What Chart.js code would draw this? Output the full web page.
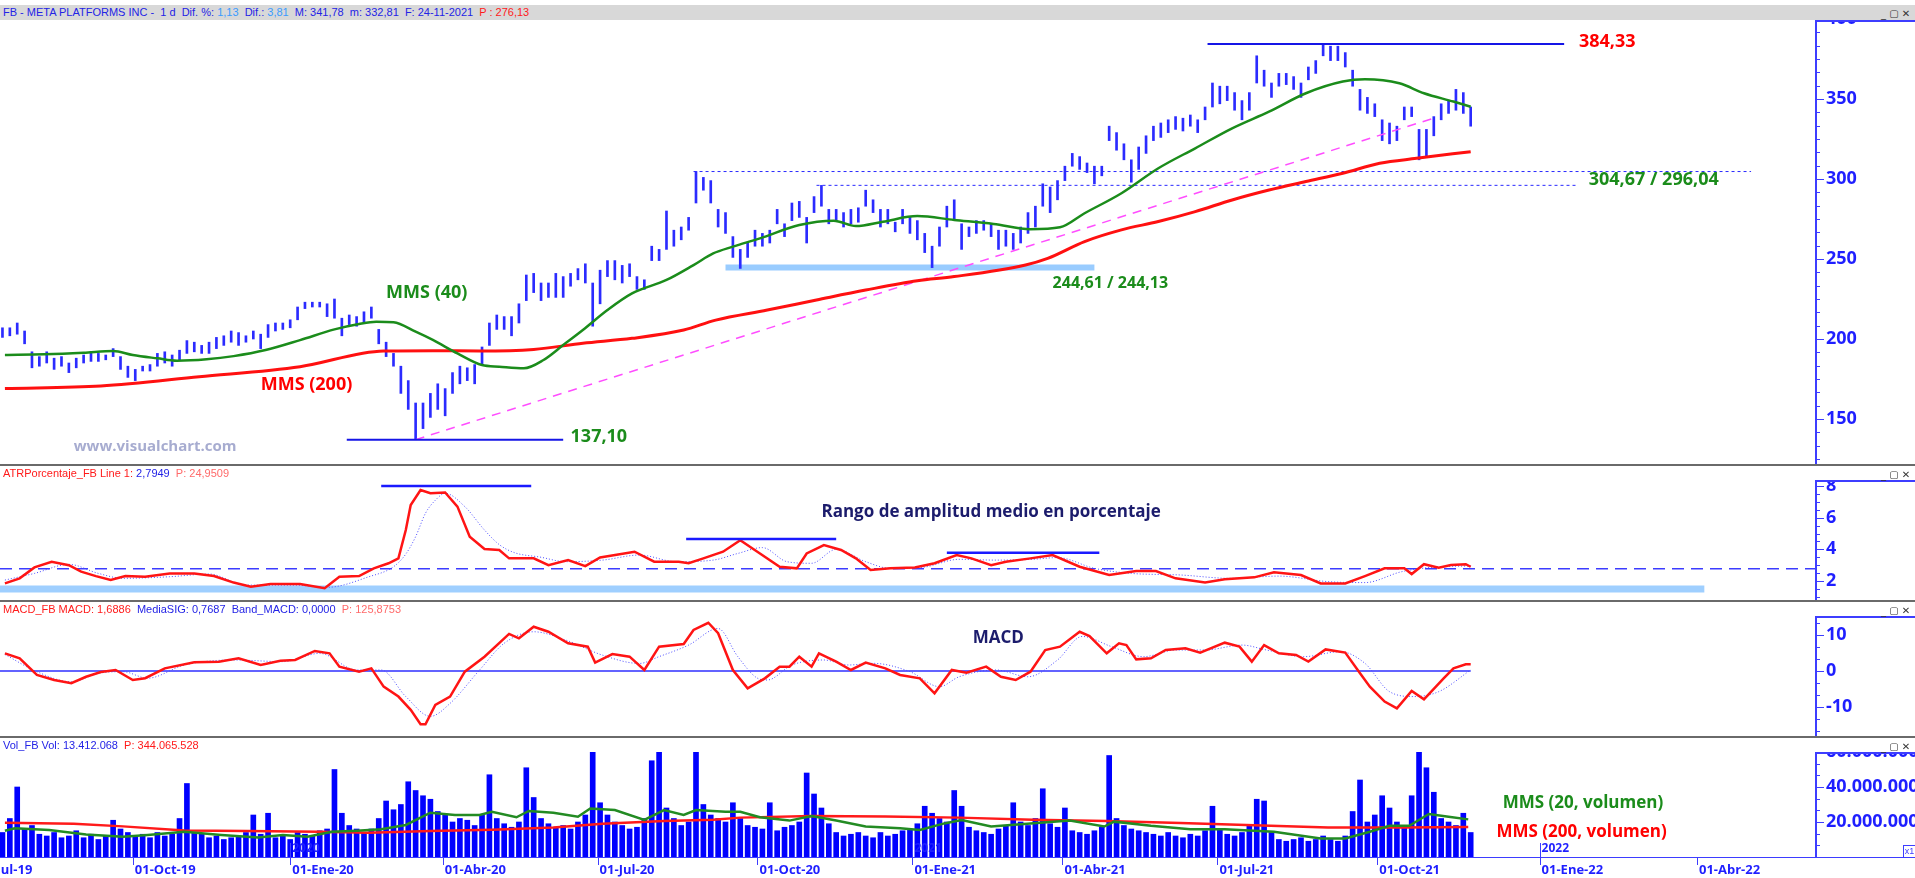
<!DOCTYPE html>
<html lang="es">
<head>
<meta charset="utf-8">
<title>FB - META PLATFORMS INC</title>
<script src="https://cdn.jsdelivr.net/npm/chart.js@4.4.1/dist/chart.umd.min.js"></script>
<style>
  body { margin: 0; width: 1915px; height: 878px; overflow: hidden; background: #fff; position: relative; font-family: "Liberation Sans", Arial, sans-serif; }
  canvas { position: absolute; left: 0; }
  .cabecera { position: absolute; left: 0; top: 5px; width: 1915px; height: 15px; background: #d8d8d8; }
  .etiqueta { position: absolute; left: 3px; font-size: 11px; line-height: 13px; white-space: pre; }
  .sep { position: absolute; left: 0; width: 1915px; height: 2px; background: #6a6a6a; }
  .ventana { position: absolute; left: 1881px; font-family: "DejaVu Sans", sans-serif; font-size: 10px; line-height: 11px; color: #333; white-space: pre; }
  .az { color: #2323e6; } .cel { color: #3a9bff; } .rj { color: #ff1a1a; } .rs { color: #ff6a6a; }
  .x1 { position: absolute; left: 1903px; top: 845px; width: 11px; height: 11px; border: 1px solid #3d3dff; font-size: 9px; line-height: 11px; color: #3d3dff; text-align: center; }
</style>
</head>
<body>
<canvas id="precio" width="1915" height="444" style="top:20px"></canvas>
<canvas id="atr" width="1915" height="134" style="top:466px"></canvas>
<canvas id="macd" width="1915" height="134" style="top:602px"></canvas>
<canvas id="vol" width="1915" height="138" style="top:740px"></canvas>

<div class="cabecera"></div>
<div class="etiqueta" style="top:6px"><span class="az">FB - META PLATFORMS INC -  1 d  Dif. %: </span><span class="cel">1,13</span><span class="az">  Dif.: </span><span class="cel">3,81</span><span class="az">  M: 341,78  m: 332,81  F: 24-11-2021  </span><span class="rj">P : 276,13</span></div>
<div class="ventana" style="top:8px">_ ▢ ✕</div>

<div class="sep" style="top:464px"></div>
<div class="etiqueta" style="top:467px"><span class="rj">ATRPorcentaje_FB Line 1: </span><span class="az">2,7949</span><span class="rs">  P: 24,9509</span></div>
<div class="ventana" style="top:469px">_ ▢ ✕</div>

<div class="sep" style="top:600px"></div>
<div class="etiqueta" style="top:603px"><span class="rj">MACD_FB MACD: 1,6886</span><span class="az">  MediaSIG: 0,7687  Band_MACD: 0,0000</span><span class="rs">  P: 125,8753</span></div>
<div class="ventana" style="top:605px">_ ▢ ✕</div>

<div class="sep" style="top:736px"></div>
<div class="etiqueta" style="top:739px"><span class="az">Vol_FB Vol: 13.412.068</span><span class="rj">  P: 344.065.528</span></div>
<div class="ventana" style="top:741px">_ ▢ ✕</div>
<div class="x1">x1</div>

<script>
// Eje X en sesiones (días hábiles) desde mediados de julio de 2019
const xMin = 0, xMax = 738;
const fechaIdx = [-10, 54, 118, 180, 243, 308, 371, 432, 495, 560, 626, 690];
const fechaTxt = ['01-Jul-19', '01-Oct-19', '01-Ene-20', '01-Abr-20', '01-Jul-20', '01-Oct-20', '01-Ene-21', '01-Abr-21', '01-Jul-21', '01-Oct-21', '01-Ene-22', '01-Abr-22'];
const anioIdx = [118, 371, 626];
const anioTxt = ['2020', '2021', '2022'];

// Barras de precio (una cada 3 sesiones): mínimo y máximo
const barInicio = 1, barPaso = 3;
const precioMin = [201,202,203,197,182,183,185,181,183,179,
  182,185,186,186,187,189,181,176,174,180,
  180,183,185,183,187,191,192,191,191,194,
  196,198,196,198,200,194,201,205,206,207,
  212,219,220,220,214,213,202,209,208,210,
  213,197,189,183,166,156,137.1,144,151,156,
  152,166,172,174,172,184,196,206,206,202,
  210,224,229,224,226,226,226,233,237,235,
  208,222,239,237,235,239,231,231,249,249,
  256,258,262,268,285,293,285,270,266,251,
  244.1,251,258,258,260,272,264,274,276,260,
  279,283,272,274,270,272,273,283,279,270,
  272,267,272,266,262,254,244.6,258,270,274,
  256,264,266,268,264,256,258,256,260,266,
  270,283,279,287,299,308,306,304,297,302,
  324,318,312,298,306,316,324,326,329,331,
  330,333,329,337,345,347,349,343,337,343,
  360,358,351,358,359,356,351,362,366,377,
  374,374,370,358,343,341,339,324,322,324,
  337,339,312,314,327,337,341,343,341,333];
const precioMax = [207,207,210,205,192,189,192,188,189,185,
  188,190,192,191,190,194,189,183,181,183,
  184,191,192,190,193,199,198,196,198,201,
  202,205,204,202,205,203,209,210,210,212,
  220,223,223,223,222,225,213,215,214,217,
  220,206,198,191,183,174,160,160,166,172,
  169,179,183,182,184,195,210,215,214,214,
  222,240,241,235,235,241,239,241,244,247,
  235,243,249,249,246,247,239,237,258,256,
  280,268,270,276,304.7,301,299,281,279,264,
  256,260,268,266,268,281,272,285,286,276,
  289,296,281,281,279,281,282,293,287,281,
  281,273,281,276,274,266,258,270,283,287,
  272,270,274,274,272,268,268,266,270,279,
  283,297,295,299,308,316,314,310,308,308,
  333,329,322,312,320,327,333,335,337,339,
  338,340,337,345,360,358,358,354,349,354,
  377,368,360,366,366,364,360,370,374,384.3,
  383,383,379,368,356,351,347,337,335,333,
  345,345,331,331,339,347,349,356,354,345];

// Volumen (millones), mismas posiciones que las barras de precio
const volumen = [14,22,40,16,18,13,12,14,11,12,
  15,11,13,10,12,21,16,14,12,13,
  11,14,12,13,22,42,14,13,11,12,
  10,11,12,14,24,13,25,11,12,10,
  14,13,12,15,16,50,25,18,16,14,
  16,22,32,27,30,43,38,35,33,26,
  24,20,22,21,18,24,47,22,19,17,
  20,51,34,22,19,17,18,16,20,24,
  60,31,24,20,18,16,17,22,55,60,
  28,22,18,20,60,30,24,22,20,31,
  22,18,17,16,31,15,17,18,20,48,
  36,28,19,14,12,13,14,12,11,14,
  12,13,15,16,19,29,25,22,20,38,
  29,17,15,14,13,16,18,31,20,18,
  22,39,19,17,28,15,14,13,15,17,
  58,22,18,16,15,14,13,12,14,12,
  11,13,12,15,29,16,13,12,14,18,
  33,32,14,10,9,10,11,9,10,12,
  10,9,12,26,44,20,24,35,28,20,
  18,35,60,51,37,22,20,18,25,14];

// Medias móviles del precio
const mms40Idx = [2,18,34,46,54,64,72,84,95,108,122,136,146,153,160,169,176,186,196,203,213,221,229,237,247,257,271,282,290,298,309,325,339,348,359,373,388,404,419,431,441,456,471,486,501,516,531,546,555,569,579,591,598];
const mms40 = [190,190.4,191.4,192.5,190,187.9,186.4,187.3,189.3,193.1,199.3,206,209.4,210.8,210.4,204.6,199.4,191,183.7,182.7,181.7,186.9,196.2,205.6,218.1,228.5,236.9,246.2,253.5,257.7,262.9,271.2,273.9,270.6,273.3,276.8,274.4,271.9,268.6,269.8,278.6,291.1,306.7,319.2,331.7,342.1,353.6,360.9,362.3,359.8,353.6,348.4,345.2];
const mms200Idx = [2,41,81,122,156,176,195,217,237,257,278,291,312,332,352,373,388,417,426,441,456,471,486,501,516,531,546,561,576,598];
const mms200 = [169.1,170.6,176.4,182.7,192.5,192.7,192.5,193.5,197.3,200.4,205.6,211.8,218.1,224.4,230.6,236.4,239,246.3,250.4,260.9,268.2,273.4,279.6,286.9,293.1,298.4,303.6,309.8,312.9,317.1];

// Niveles y directriz dibujados sobre el precio
const directrizIdx = [169, 584], directrizVal = [137.1, 338.5];
const maximoIdx = [491, 636], maximoVal = 384.33;
const minimoIdx = [141, 229], minimoVal = 137.10;
const hueco1Idx = [282, 712], hueco1Val = 304.67;
const hueco2Idx = [332, 641], hueco2Val = 296.04;
const soporteIdx = [295, 445], soporteVal = 244.61;

// ATR en porcentaje y su media
const atrIdx = [2,8,14,21,28,33,39,45,51,59,69,79,87,95,102,110,122,132,138,146,152,158,162,165,167,171,175,181,186,191,197,203,207,217,223,231,238,244,258,266,276,280,286,294,301,309,317,324,328,335,342,348,354,362,372,380,389,395,403,409,419,428,439,451,462,470,478,490,498,510,518,529,537,547,555,563,571,574,579,585,590,596,598];
const atr = [1.85,2.17,2.86,3.22,3.0,2.59,2.31,2.06,2.31,2.27,2.48,2.48,2.31,1.9,1.64,1.81,1.81,1.54,2.27,2.31,2.8,3.12,3.43,5.22,6.8,7.75,7.54,7.59,6.7,4.8,4.02,3.96,3.43,3.43,3.0,3.32,2.94,3.49,3.85,3.22,3.22,3.12,3.43,3.85,4.58,3.74,2.9,2.8,3.74,4.27,3.96,3.43,2.69,2.8,2.86,3.12,3.64,3.43,3.0,3.22,3.43,3.64,2.9,2.38,2.63,2.63,2.17,1.9,2.11,2.23,2.55,2.38,1.85,1.85,2.31,2.8,2.8,2.44,3.06,2.84,3.01,3.06,2.9];
const atrSigIdx = [2,14,28,40,50,69,85,100,120,133,150,160,165,169,173,177,181,189,197,203,209,220,230,245,260,275,290,300,310,320,330,340,352,362,375,390,405,420,430,445,460,480,500,520,540,555,570,585,598];
const atrSig = [2.06,2.48,3.05,2.48,2.17,2.27,2.44,1.74,1.74,1.6,2.27,2.9,3.7,4.8,6.28,7.1,7.54,6.7,5.22,4.3,3.8,3.5,3.22,3.32,3.64,3.22,3.32,3.74,4.11,3.22,3.12,4.0,3.22,2.8,2.86,3.37,3.32,3.37,3.48,2.8,2.48,2.38,2.17,2.31,1.96,1.9,2.59,2.9,2.95];
const atrLineaVal = 2.78, atrBandaVal = 1.5, atrBandaFin = 693;
const atrTechoIdx = [[155, 216], [279, 340], [385, 447]];
const atrTechoVal = [8.0, 4.65, 3.79];

// MACD y señal
const macdIdx = [2,8,15,22,29,35,41,47,54,59,67,79,89,97,106,114,120,128,134,138,146,151,156,162,167,171,173,177,183,189,197,207,211,217,223,231,239,242,249,256,262,268,278,282,288,292,298,304,311,317,321,325,330,333,340,346,352,360,366,374,380,387,393,401,407,413,419,425,431,439,443,450,455,458,462,468,474,482,488,498,504,509,514,520,527,532,539,547,553,557,563,568,574,579,587,591,596,598];
const macd = [4.91,3.52,-1.1,-2.5,-3.4,-1.6,-0.28,0.28,-2.5,-2.0,0.74,2.41,2.6,3.52,1.67,2.87,3.06,5.56,4.91,1.2,-0.19,0.74,-4.35,-7.1,-10.8,-14.8,-14.8,-9.44,-7.1,-0.19,3.98,10.3,9.07,12.3,10.9,7.7,6.76,2.32,4.72,3.98,0.28,6.76,7.5,11.4,13.4,10.5,0.28,-4.8,-2.04,1.2,1.2,3.98,1.2,4.91,2.6,0.28,2.32,0.74,-1.11,-2.04,-6.2,0.28,-0.46,1.2,-1.6,-2.5,-0.19,5.83,6.76,10.9,9.7,4.91,7.7,7.2,3.24,3.52,5.83,6.3,5.1,7.87,6.76,2.6,7.2,4.91,4.44,2.6,6.0,5.1,-0.65,-4.35,-8.5,-10.4,-5.56,-7.87,-2.04,0.74,1.85,1.85];
const macdSigIdx = [2,15,29,40,50,60,75,95,115,130,145,155,165,175,183,195,205,217,230,245,260,268,280,292,300,308,312,322,335,345,355,370,382,390,405,418,430,440,452,465,478,490,505,515,530,545,555,565,575,585,598];
const macdSig = [4.6,-0.19,-3.0,-0.65,-0.19,-2.0,1.67,3.06,2.6,4.9,0.28,0.28,-7.1,-12.6,-9.0,0.28,7.7,10.9,8.6,4.4,2.1,4.0,7.2,11.8,4.0,-2.0,-2.5,1.67,3.06,1.67,2.13,-0.19,-4.35,-1.6,0.28,-1.6,3.06,9.6,6.76,3.98,5.83,5.83,7.2,5.83,3.98,5.37,2.13,-5.74,-7.1,-5.74,0.28];
const macdCeroFin = 598;

// Medias del volumen (millones)
const vol20Idx = [2,6,20,35,50,60,75,90,105,115,125,135,145,155,165,175,185,195,200,210,215,225,235,240,250,262,270,278,283,295,301,309,321,330,340,352,366,374,384,391,403,419,435,449,453,468,484,498,518,537,547,557,565,573,581,589,597];
const vol20 = [15,16.4,15.4,12.9,11.6,12.6,14.4,12.6,11.2,12.6,11.6,14.4,15,15.8,18.3,25.3,24,24,25.9,22.7,26.3,25.3,23,27.7,26.8,21.2,26.8,24,26.8,25.9,25.9,22.7,20.8,23.4,20.8,17.4,16.4,15.4,19.2,21.1,17.4,19.2,20.8,17.4,20.2,17.8,15.8,15.8,14.4,10.6,10.6,14.4,17.8,17.8,24.6,23,21.5];
const vol200Idx = [2,30,50,75,100,130,150,175,200,225,245,270,290,301,330,360,390,420,450,480,510,540,570,597];
const vol200 = [19.6,19,17.5,15.2,14.8,14.4,13.8,14.8,15.6,16.8,19,20.6,21.3,22.5,23.4,23.2,22.5,21.3,20.6,19.4,18.1,16.8,16.8,17.1];

// Marcas de los ejes de la derecha
const precioMarcas = [150, 200, 250, 300, 350, 400];
const atrMarcas = [2, 4, 6, 8];
const macdMarcas = [-10, 0, 10];
const volMarcas = [20, 40, 60];
const volTextos = ['20.000.000', '40.000.000', '60.000.000'];

const AZUL = '#2b2bff', VERDE = '#1b8c1b', ROJO = '#ff1414', MARINO = '#1c1c6c';
const fuente = (px) => 'bold ' + px + 'px "Open Sans", "DejaVu Sans", sans-serif';

function puntos(idx, val) {
  return idx.map((x, i) => ({ x: x, y: val[i] }));
}
function tramo(rango, valor) {
  return [{ x: rango[0], y: valor }, { x: rango[1], y: valor }];
}
function linea(data, color, ancho, extra) {
  return Object.assign({ type: 'line', data: data, borderColor: color, borderWidth: ancho,
    pointRadius: 0, fill: false, tension: 0 }, extra || {});
}

// Eje vertical de la derecha con marcas menores
const ejeDerecho = {
  id: 'ejeDerecho',
  afterDraw(chart, args, op) {
    if (!op.marcas) return;
    const ctx = chart.ctx, ys = chart.scales.y, area = chart.chartArea;
    const x0 = area.right;
    ctx.save();
    ctx.strokeStyle = '#3d3dff';
    ctx.lineWidth = 2;
    ctx.beginPath();
    ctx.moveTo(x0 + 1, op.arriba);
    ctx.lineTo(x0 + 1, area.bottom);
    ctx.moveTo(x0, op.arriba + 1);
    ctx.lineTo(chart.width, op.arriba + 1);
    ctx.stroke();
    ctx.lineWidth = 1;
    ctx.beginPath();
    for (let v = op.desde; v <= ys.max; v += op.paso) {
      const y = Math.round(ys.getPixelForValue(v)) + 0.5;
      if (y < op.arriba + 3 || y > area.bottom) continue;
      ctx.moveTo(x0 + 2, y);
      ctx.lineTo(x0 + 5, y);
    }
    op.marcas.forEach(v => {
      const y = Math.round(ys.getPixelForValue(v)) + 0.5;
      if (y < op.arriba + 3 || y > area.bottom) return;
      ctx.moveTo(x0 + 2, y);
      ctx.lineTo(x0 + 9, y);
    });
    ctx.stroke();
    ctx.beginPath();
    ctx.rect(x0 + 3, op.arriba + 2, chart.width, area.bottom);
    ctx.clip();
    ctx.fillStyle = '#1f1fff';
    ctx.font = fuente(18);
    ctx.textBaseline = 'middle';
    op.marcas.forEach((v, i) => {
      const t = op.textos ? op.textos[i] : String(v);
      ctx.fillText(t, x0 + 11, ys.getPixelForValue(v));
    });
    ctx.restore();
  }
};

// Eje de fechas (solo en el panel de volumen)
const ejeFechas = {
  id: 'ejeFechas',
  afterDraw(chart, args, op) {
    if (!op.activo) return;
    const ctx = chart.ctx, xs = chart.scales.x, yb = chart.chartArea.bottom;
    ctx.save();
    ctx.strokeStyle = '#3d3dff';
    ctx.lineWidth = 1;
    ctx.beginPath();
    ctx.moveTo(0, yb + 0.5);
    ctx.lineTo(chart.width, yb + 0.5);
    fechaIdx.forEach(t => {
      const x = Math.round(xs.getPixelForValue(t)) + 0.5;
      ctx.moveTo(x, yb);
      ctx.lineTo(x, yb + 8);
    });
    anioIdx.forEach(t => {
      const x = Math.round(xs.getPixelForValue(t)) + 0.5;
      ctx.moveTo(x, yb - 14);
      ctx.lineTo(x, yb);
    });
    ctx.stroke();
    ctx.fillStyle = '#1f1fff';
    ctx.font = fuente(13);
    ctx.textBaseline = 'top';
    fechaTxt.forEach((t, i) => ctx.fillText(t, xs.getPixelForValue(fechaIdx[i]) + 2, yb + 7));
    ctx.font = fuente(12);
    ctx.textBaseline = 'bottom';
    anioTxt.forEach((t, i) => ctx.fillText(t, xs.getPixelForValue(anioIdx[i]) + 2, yb - 2));
    ctx.restore();
  }
};

// Textos sobre los paneles, en coordenadas de datos
const notas = {
  id: 'notas',
  afterDatasetsDraw(chart, args, op) {
    if (!op.lista) return;
    const ctx = chart.ctx;
    ctx.save();
    ctx.textBaseline = 'middle';
    op.lista.forEach(n => {
      ctx.font = n.fuente;
      ctx.fillStyle = n.color;
      ctx.fillText(n.texto, chart.scales.x.getPixelForValue(n.x), chart.scales.y.getPixelForValue(n.y));
    });
    ctx.restore();
  }
};

Chart.register(ejeDerecho, ejeFechas, notas);

function opciones(yMin, yMax, arriba, abajo, plugins) {
  return {
    responsive: false,
    animation: false,
    devicePixelRatio: 1,
    events: [],
    layout: { padding: { left: 0, right: 100, top: arriba, bottom: abajo } },
    plugins: Object.assign({ legend: { display: false }, tooltip: { enabled: false } }, plugins),
    scales: {
      x: { type: 'linear', min: xMin, max: xMax, display: false, offset: false },
      y: { min: yMin, max: yMax, display: false }
    }
  };
}

const barrasPrecio = precioMin.map((lo, k) => ({ x: barInicio + k * barPaso, y: [lo, precioMax[k]] }));
const barrasVol = volumen.map((v, k) => ({ x: barInicio + k * barPaso, y: v }));

// Panel de precio
new Chart(document.getElementById('precio'), {
  type: 'bar',
  data: {
    datasets: [
      linea(puntos(mms40Idx, mms40), VERDE, 2.5, { cubicInterpolationMode: 'monotone' }),
      linea(puntos(mms200Idx, mms200), '#ff1010', 3, { cubicInterpolationMode: 'monotone' }),
      linea(tramo(maximoIdx, maximoVal), '#1515e6', 2),
      linea(tramo(minimoIdx, minimoVal), '#1515e6', 2),
      linea(puntos(directrizIdx, directrizVal), '#ff4dff', 1.5, { borderDash: [9, 7] }),
      { type: 'bar', data: barrasPrecio, backgroundColor: AZUL, barThickness: 2, grouped: false },
      linea(tramo(hueco1Idx, hueco1Val), '#2a2aff', 1, { borderDash: [3, 3] }),
      linea(tramo(hueco2Idx, hueco2Val), '#2a2aff', 1, { borderDash: [3, 3] }),
      linea(tramo(soporteIdx, soporteVal), '#99ccff', 6)
    ]
  },
  options: opciones(121.875, 399.375, 0, 0, {
    ejeDerecho: { marcas: precioMarcas, arriba: 0, desde: 125, paso: 25 / 3 },
    notas: { lista: [
      { texto: '384,33', x: 642, y: 385.8, color: '#ff0000', fuente: fuente(18) },
      { texto: '137,10', x: 232, y: 138.75, color: VERDE, fuente: fuente(18) },
      { texto: '304,67 / 296,04', x: 646, y: 299.4, color: VERDE, fuente: fuente(18) },
      { texto: '244,61 / 244,13', x: 428, y: 235, color: VERDE, fuente: fuente(16) },
      { texto: 'MMS (40)', x: 157, y: 228.75, color: VERDE, fuente: fuente(18) },
      { texto: 'MMS (200)', x: 106, y: 171.25, color: '#ff0000', fuente: fuente(18) },
      { texto: 'www.visualchart.com', x: 30, y: 132.5, color: '#a7acd0', fuente: fuente(15) }
    ] }
  })
});

// Panel ATR porcentaje
const techos = atrTechoIdx.map((r, i) => linea(tramo(r, atrTechoVal[i]), '#1a1aff', 2.5));
new Chart(document.getElementById('atr'), {
  type: 'line',
  data: {
    datasets: techos.concat([
      linea(puntos(atrIdx, atr), ROJO, 2.5),
      linea(puntos(atrSigIdx, atrSig), '#4b4bff', 1, { borderDash: [1, 2], cubicInterpolationMode: 'monotone' }),
      linea(tramo([xMin, xMax], atrLineaVal), '#3c3cff', 1.5, { borderDash: [12, 7] }),
      linea(tramo([xMin, atrBandaFin], atrBandaVal), '#9fcfff', 7)
    ])
  },
  options: opciones(0.8, 9.265, 0, 0, {
    ejeDerecho: { marcas: atrMarcas, arriba: 14, desde: 0, paso: 0.5 },
    notas: { lista: [
      { texto: 'Rango de amplitud medio en porcentaje', x: 334, y: 6.36, color: MARINO, fuente: fuente(17) }
    ] }
  })
});

// Panel MACD
new Chart(document.getElementById('macd'), {
  type: 'line',
  data: {
    datasets: [
      linea(puntos(macdIdx, macd), ROJO, 2.5),
      linea(puntos(macdSigIdx, macdSig), '#4b4bff', 1, { borderDash: [1, 2], cubicInterpolationMode: 'monotone' }),
      linea(tramo([xMin, macdCeroFin], 0), '#2f2fff', 1.5)
    ]
  },
  options: opciones(-18.06, 19.17, 0, 0, {
    ejeDerecho: { marcas: macdMarcas, arriba: 14, desde: -20, paso: 10 / 3 },
    notas: { lista: [
      { texto: 'MACD', x: 395.5, y: 9.17, color: MARINO, fuente: fuente(17) }
    ] }
  })
});

// Panel de volumen
new Chart(document.getElementById('vol'), {
  type: 'bar',
  data: {
    datasets: [
      linea(puntos(vol20Idx, vol20), '#238b23', 2.5),
      linea(puntos(vol200Idx, vol200), '#ff1a1a', 2.5),
      { type: 'bar', data: barrasVol, backgroundColor: '#0000ff', barThickness: 5, grouped: false }
    ]
  },
  options: opciones(0, 60, 12, 21, {
    ejeDerecho: { marcas: volMarcas, textos: volTextos, arriba: 12, desde: 0, paso: 20 / 3 },
    ejeFechas: { activo: true },
    notas: { lista: [
      { texto: 'MMS (20, volumen)', x: 611, y: 30.9, color: VERDE, fuente: fuente(17) },
      { texto: 'MMS (200, volumen)', x: 608.5, y: 14.3, color: '#ff0000', fuente: fuente(17) }
    ] }
  })
});
</script>
</body>
</html>
